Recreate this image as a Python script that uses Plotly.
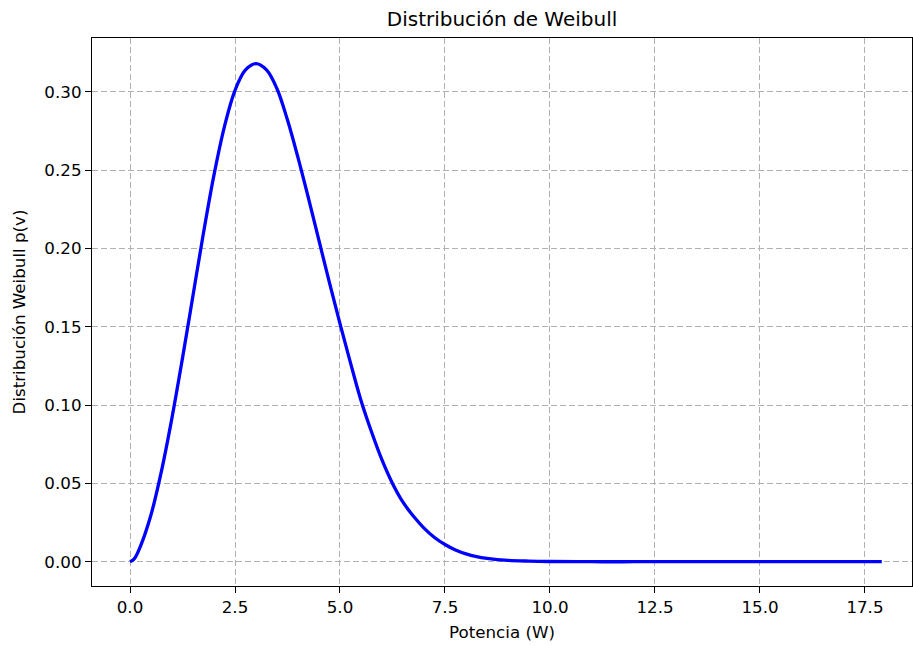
import plotly.graph_objects as go

# Values
potencia = [0.0, 0.1, 0.25, 0.5, 0.75, 1.0, 1.25, 1.5, 1.75, 2.0, 2.25, 2.5, 2.75,
            3.0, 3.25, 3.5, 3.75, 4.0, 4.25, 4.5, 4.75, 5.0, 5.25, 5.5, 5.75,
            6.0, 6.25, 6.5, 6.75, 7.0, 7.25, 7.5, 7.75, 8.0, 8.25, 8.5, 9.0, 9.5,
            10.0, 11.0, 12.0, 13.0, 14.0, 15.0, 16.0, 17.0, 17.9]
weibull = [0.0, 0.0018, 0.010, 0.030, 0.058, 0.092, 0.130, 0.170, 0.210, 0.247, 0.278,
           0.301, 0.314, 0.318, 0.314, 0.302, 0.282, 0.258, 0.232, 0.205, 0.178,
           0.152, 0.127, 0.103, 0.083, 0.065, 0.050, 0.038, 0.029, 0.0215, 0.0155,
           0.011, 0.0075, 0.005, 0.0033, 0.0022, 0.0009, 0.0004, 0.00015, 0.0,
           0.0, 0.0, 0.0, 0.0, 0.0, 0.0, 0.0]

x_ticks = [0.0, 2.5, 5.0, 7.5, 10.0, 12.5, 15.0, 17.5]
y_ticks = [0.00, 0.05, 0.10, 0.15, 0.20, 0.25, 0.30]

FONT = "DejaVu Sans"

fig = go.Figure()
fig.add_trace(go.Scatter(
    x=potencia, y=weibull, mode="lines",
    line=dict(color="#0000ff", width=3.3, shape="spline", smoothing=1.0),
    showlegend=False, hoverinfo="skip",
))

axis_common = dict(
    showline=True, linecolor="black", linewidth=1.3, mirror=True,
    ticks="outside", ticklen=6, tickwidth=1.3, tickcolor="black",
    showgrid=True, gridcolor="#b0b0b0", gridwidth=1.2, griddash="6px,3px",
    zeroline=False,
    tickfont=dict(family=FONT, size=16.7, color="black"),
)

fig.update_layout(
    width=913, height=646,
    margin=dict(l=92, r=1, t=38, b=60),
    paper_bgcolor="white", plot_bgcolor="white",
    title=dict(text="Distribución de Weibull", x=0.5, xanchor="center",
               y=1 - 19 / 646, yanchor="middle",
               xref="paper",
               font=dict(family=FONT, size=20, color="black")),
    xaxis=dict(
        range=[-0.905, 18.62], tickvals=x_ticks,
        ticktext=[f"{v:.1f}" for v in x_ticks],
        title=dict(text="Potencia (W)", standoff=10,
                   font=dict(family=FONT, size=16.7, color="black")),
        **axis_common,
    ),
    yaxis=dict(
        range=[-0.0155, 0.3344], tickvals=y_ticks,
        ticktext=[f"{v:.2f}" for v in y_ticks],
        title=dict(text="Distribución Weibull p(v)", standoff=14,
                   font=dict(family=FONT, size=16.7, color="black")),
        **axis_common,
    ),
)

fig.write_html("out.html")
